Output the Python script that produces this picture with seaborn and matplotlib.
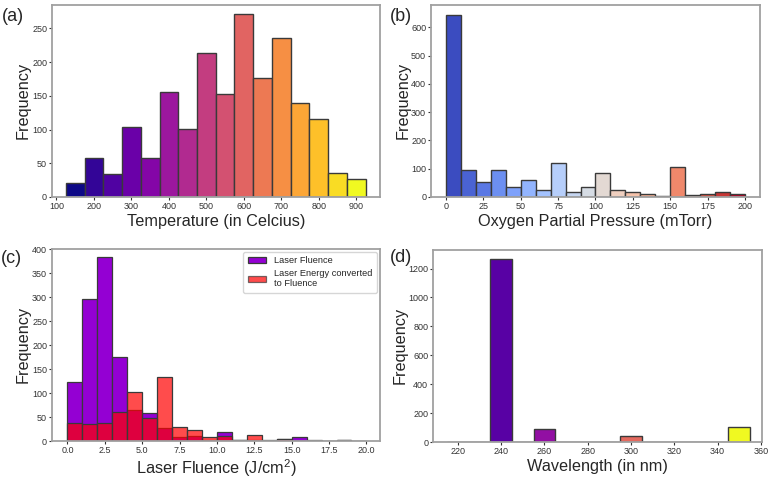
import numpy as np
import pandas as pd
import seaborn as sns
import matplotlib.pyplot as plt
from matplotlib.patches import Patch

# (a) deposition temperature
temp_edges = list(range(125, 926, 50))
temp_counts = [20, 58, 34, 104, 58, 155, 101, 214, 153, 271, 176, 235, 140, 116, 36, 27]

# (b) oxygen partial pressure
oxy_edges = list(range(0, 201, 10))
oxy_counts = [645, 97, 52, 95, 35, 60, 23, 120, 18, 35,
              85, 25, 17, 12, 2, 107, 7, 9, 18, 12]

# (c) laser fluence
flu_edges = list(range(0, 21, 1))
flu_counts = [123, 296, 384, 175, 65, 58, 27, 8, 11, 3,
              18, 3, 3, 1, 4, 8, 2, 1, 3, 0]
energy_counts = [37, 35, 38, 60, 103, 49, 133, 29, 22, 8,
                 10, 2, 12, 2, 4, 1, 0, 0, 3, 0]

# (d) laser wavelength
wl_edges = list(range(215, 356, 10))
wl_counts = [0, 0, 1265, 0, 90, 0, 3, 0, 45, 0, 3, 0, 0, 105]


def set_config():
    sns.set_style("white", {
        "axes.edgecolor": "#a0a0a0",
        "xtick.bottom": True,
        "ytick.left": True,
        "xtick.color": "#333333",
        "ytick.color": "#333333",
    })
    plt.rcParams["font.family"] = ["Liberation Sans", "DejaVu Sans"]
    plt.rcParams["mathtext.default"] = "regular"
    plt.rcParams["axes.linewidth"] = 1.3
    plt.rcParams["xtick.labelsize"] = 6.5
    plt.rcParams["ytick.labelsize"] = 6.5
    plt.rcParams["xtick.major.size"] = 2
    plt.rcParams["ytick.major.size"] = 2
    plt.rcParams["xtick.major.pad"] = 1.5
    plt.rcParams["ytick.major.pad"] = 1.5


def draw_hist(ax, edges, counts, colors, **kws):
    mids = [(lo + hi) / 2 for lo, hi in zip(edges[:-1], edges[1:])]
    df = pd.DataFrame({"x": mids, "w": counts})
    n_before = len(ax.patches)
    # bins passed as a plain list (seaborn compares it with "auto")
    sns.histplot(data=df, x="x", weights="w", bins=list(edges), ax=ax, **kws)
    if colors is not None:
        for patch, c in zip(ax.patches[n_before:], colors):
            patch.set_facecolor(c)


def finish(ax, xlabel, tag, tag_xy, ylab_x):
    ax.set_xlabel(xlabel, fontsize=11.7, labelpad=2)
    ax.set_ylabel("Frequency", fontsize=11.7)
    ax.yaxis.set_label_coords(ylab_x, 0.5)
    ax.text(tag_xy[0], tag_xy[1], tag, transform=ax.transAxes, fontsize=13,
            ha="left", va="center")


def main():
    set_config()
    fig = plt.figure(figsize=(7.77, 4.78), dpi=100)
    ax_a = fig.add_axes([0.0669, 0.588, 0.422, 0.402])
    ax_b = fig.add_axes([0.5547, 0.588, 0.4234, 0.402])
    ax_c = fig.add_axes([0.0669, 0.0774, 0.422, 0.402])
    ax_d = fig.add_axes([0.5573, 0.0753, 0.4234, 0.402])

    edge = dict(edgecolor="#3a3a3a", linewidth=1.0, alpha=1)

    # (a)
    cols = plt.get_cmap("plasma")(np.linspace(0, 1, len(temp_counts)))
    draw_hist(ax_a, temp_edges, temp_counts, cols, **edge)
    ax_a.set_xticks(range(100, 901, 100))
    ax_a.set_xlim(88, 963)
    ax_a.set_ylim(0, 285)
    finish(ax_a, "Temperature (in Celcius)", "(a)", (-0.152, 0.94), -0.064)

    # (b)
    cols = plt.get_cmap("coolwarm")(np.linspace(0, 1, len(oxy_counts)))
    draw_hist(ax_b, oxy_edges, oxy_counts, cols, **edge)
    ax_b.set_xticks(range(0, 201, 25))
    ax_b.set_xlim(-10, 210)
    ax_b.set_ylim(0, 680)
    finish(ax_b, "Oxygen Partial Pressure (mTorr)", "(b)", (-0.124, 0.94), -0.061)

    # (c)
    draw_hist(ax_c, flu_edges, flu_counts, None, color="darkviolet",
              edgecolor="#3a3a3a", linewidth=0.9, alpha=1)
    draw_hist(ax_c, flu_edges, energy_counts, None, color="red",
              edgecolor="#3a3a3a", linewidth=0.9, alpha=0.7)
    ax_c.set_xticks(np.arange(0, 20.1, 2.5))
    ax_c.set_xlim(-1.03, 20.9)
    ax_c.set_ylim(0, 401)
    finish(ax_c, "Laser Fluence (J/cm$^2$)", "(c)", (-0.157, 0.95), -0.064)
    handles = [
        Patch(facecolor="darkviolet", edgecolor="#3a3a3a", linewidth=0.9),
        Patch(facecolor="red", alpha=0.7, edgecolor="#3a3a3a", linewidth=0.9),
    ]
    ax_c.legend(handles, ["Laser Fluence", "Laser Energy converted\nto Fluence"],
                loc="upper right", fontsize=6.7, frameon=True,
                handlelength=2.0, handleheight=0.65, handletextpad=0.85,
                borderpad=0.45, labelspacing=0.4, borderaxespad=0.35)

    # (d)
    cols = plt.get_cmap("plasma")(np.linspace(0, 1, len(wl_counts)))
    draw_hist(ax_d, wl_edges, wl_counts, cols, **edge)
    ax_d.set_xticks(range(220, 361, 20))
    ax_d.set_xlim(208.5, 360.5)
    ax_d.set_ylim(0, 1329)
    finish(ax_d, "Wavelength (in nm)", "(d)", (-0.13, 0.96), -0.076)

    fig.savefig("out.png", dpi=100)


if __name__ == "__main__":
    main()
